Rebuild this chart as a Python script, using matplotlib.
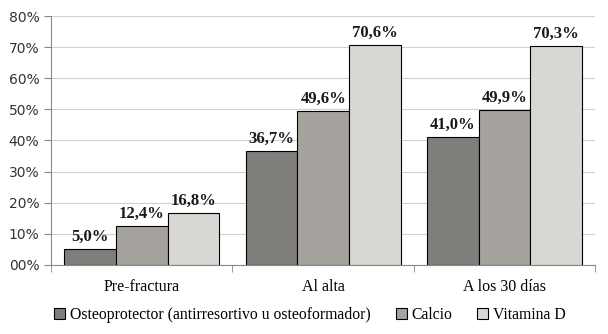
import numpy as np
import matplotlib.pyplot as plt

# Data
categories = ["Pre-fractura", "Al alta", "A los 30 días"]
series_names = ["Osteoprotector (antirresortivo u osteoformador)", "Calcio", "Vitamina D"]
osteoprotector = [5.0, 36.7, 41.0]
calcio = [12.4, 49.6, 49.9]
vitamina_d = [16.8, 70.6, 70.3]
yticks = [0, 10, 20, 30, 40, 50, 60, 70, 80]
ytick_labels = ["00%", "10%", "20%", "30%", "40%", "50%", "60%", "70%", "80%"]

colors = ["#7f7e7a", "#a6a39e", "#d9d7d4"]
serif = ["Liberation Serif", "DejaVu Serif"]

fig = plt.figure(figsize=(6.08, 3.34), dpi=100)
ax = fig.add_axes([0.084, 0.207, 0.895, 0.745])

x = np.arange(len(categories))
w = 0.285
for i, (vals, name) in enumerate(zip([osteoprotector, calcio, vitamina_d], series_names)):
    pos = x + (i - 1) * w
    ax.bar(pos, vals, w, color=colors[i], edgecolor="black", linewidth=0.8,
           label=name, zorder=3)
    for p, v in zip(pos, vals):
        ax.text(p, v + 1.3, f"{v:.1f}%".replace(".", ","), ha="center", va="bottom",
                fontsize=12, fontweight="bold", family=serif, color="#1a1a1a")

# Axes styling
ax.set_xlim(-0.5, 2.5)
ax.set_ylim(0, 80)
ax.set_yticks(yticks)
ax.set_yticklabels(ytick_labels, fontsize=10, color="#333333")
ax.set_xticks(x)
ax.set_xticklabels(categories, fontsize=11.5, family=serif)
ax.set_xticks([-0.5, 0.5, 1.5, 2.5], minor=True)
ax.tick_params(axis="x", which="major", length=0, pad=10)
ax.tick_params(axis="x", which="minor", length=5, color="#888888")
ax.tick_params(axis="y", length=5, color="#888888")
ax.grid(axis="y", color="#d0d0d0", linewidth=0.8, zorder=0)
for s in ["top", "right"]:
    ax.spines[s].set_visible(False)
for s in ["left", "bottom"]:
    ax.spines[s].set_color("#888888")

fig.legend(loc="lower center", bbox_to_anchor=(0.51, -0.01), ncol=3, frameon=False,
           prop={"family": serif, "size": 11.3}, handlelength=0.7, handleheight=0.7,
           handletextpad=0.3, columnspacing=1.6)

fig.savefig("out.png", dpi=100)
